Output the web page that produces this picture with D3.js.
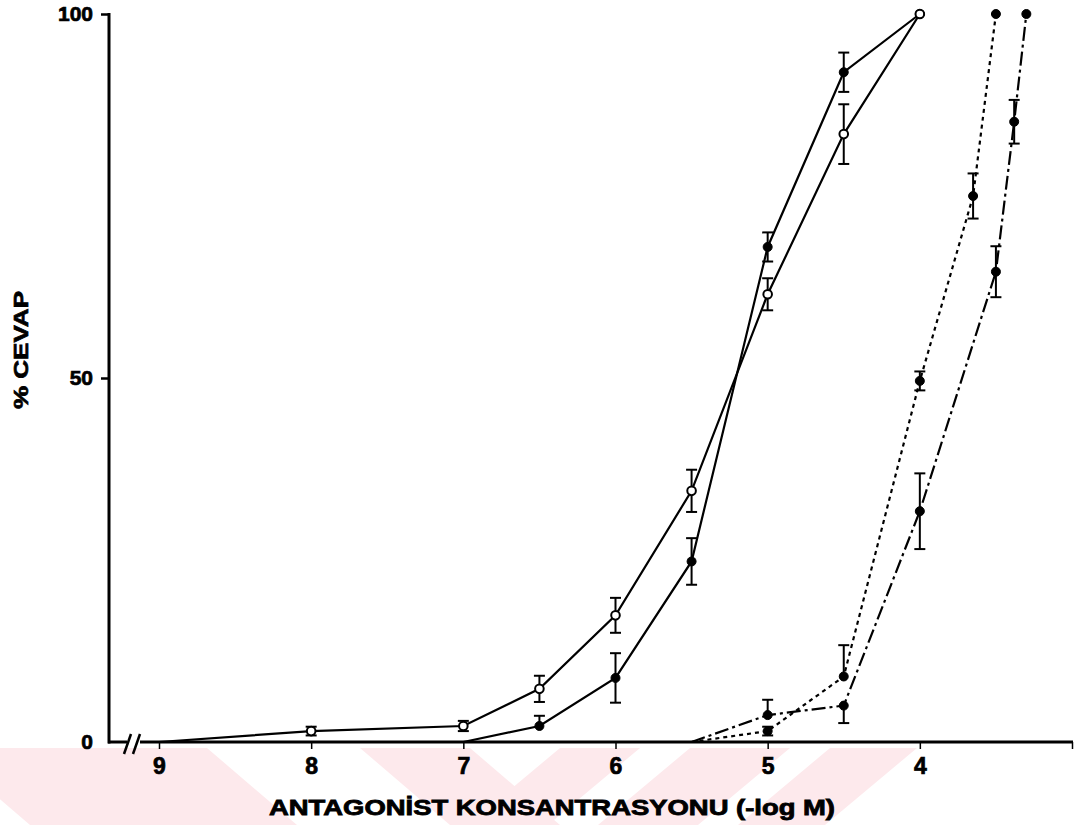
<!DOCTYPE html>
<html>
<head>
<meta charset="utf-8">
<script src="https://cdnjs.cloudflare.com/ajax/libs/d3/7.8.5/d3.min.js"></script>
<style>
body{margin:0;background:#fff;}
svg{display:block;}
text{paint-order:stroke;}
</style>
</head>
<body>
<div id="chart"></div>
<script>
(function(){

const width = 1080;
const height = 825;

// axis ticks
const xTicks = [9,8,7,6,5,4,3];
const xTickLabels = ["9","8","7","6","5","4",""];
const yTicks = [0,50,100];

// open circles, solid line
const openX = [9,8,7,6.5,6,5.5,5,4.5,4];
const openY = [0,1.5,2.2,7.3,17.4,34.5,61.5,83.5,100];
const openErr = [0,0.6,0.7,1.8,2.4,2.9,2.2,4.1,0];

// filled circles, solid line
const filledX = [7,6.5,6,5.5,5,4.5,4];
const filledY = [0,2.2,8.8,24.8,68,92,100];
const filledUp = [0,1.4,3.4,3.2,2,2.7,0];
const filledDown = [0,0,3.4,3.2,2,2.7,0];

// filled circles, dotted line
const dotX = [5.5,5,4.5,4,3.65,3.5];
const dotY = [0,1.5,9,49.6,75,100];
const dotUp = [0,0.6,4.3,1.3,3.1,0];
const dotDown = [0,0.6,0,1.3,3.1,0];

// filled circles, dash-dot line
const dashX = [5.5,5,4.5,4,3.5,3.38,3.3];
const dashY = [0,3.7,5,31.7,64.6,85.2,100];
const dashUp = [0,2.1,0,5.2,3.5,3.0,0];
const dashDown = [0,0,2.4,5.2,3.5,3.0,0];

const svg = d3.select("#chart")
.append("svg")
.attr("width",width)
.attr("height",height);

// faint watermark bands below the axis
const wm = svg.append("g").attr("fill","#fde9ec");
[[-60,207,90],[360,470,90],[560,640,-92],[690,790,-92],[830,917,-92]].forEach(b=>{
    wm.append("polygon")
    .attr("points",`${b[0]},748 ${b[1]},748 ${b[1]+b[2]},825 ${b[0]+b[2]},825`);
});

const x = d3.scaleLinear()
.domain([9,3])
.range([159,1072]);

const y = d3.scaleLinear()
.domain([0,100])
.range([742,14]);

const font = "'Liberation Sans', Arial, sans-serif";

// x axis (ticks and labels from d3, line drawn with a break)
const gx = svg.append("g")
.attr("transform",`translate(0,${y(0)})`)
.call(d3.axisBottom(x)
    .tickValues(xTicks)
    .tickSize(7)
    .tickPadding(9)
    .tickFormat((d,i)=>xTickLabels[i]));
gx.select(".domain").remove();
gx.selectAll(".tick line").attr("stroke","#000").attr("stroke-width",1.5);
gx.selectAll(".tick text")
.attr("fill","#000")
.attr("stroke","#000")
.attr("stroke-width",0.7)
.style("font-family",font)
.style("font-weight","bold")
.style("font-size","23px");

svg.append("line")
.attr("x1",108).attr("x2",127)
.attr("y1",y(0)).attr("y2",y(0))
.attr("stroke","#000").attr("stroke-width",3);
svg.append("line")
.attr("x1",140).attr("x2",x(3)+1)
.attr("y1",y(0)).attr("y2",y(0))
.attr("stroke","#000").attr("stroke-width",3);
[124,133].forEach(bx=>{
    svg.append("line")
    .attr("x1",bx).attr("y1",y(0)+12)
    .attr("x2",bx+7).attr("y2",y(0)-8)
    .attr("stroke","#000").attr("stroke-width",2.5);
});

// y axis
const gy = svg.append("g")
.attr("transform","translate(109,0)")
.call(d3.axisLeft(y)
    .tickValues(yTicks)
    .tickSize(8)
    .tickPadding(8));
gy.select(".domain").attr("stroke","#000").attr("stroke-width",3)
.attr("d",`M0,${y(100)-1}V${y(0)+1.5}`);
gy.selectAll(".tick line").attr("stroke","#000").attr("stroke-width",2.5)
.attr("opacity",d=>d===0?0:1);
gy.selectAll(".tick text")
.attr("fill","#000")
.attr("stroke","#000")
.attr("stroke-width",0.7)
.style("font-family",font)
.style("font-weight","bold")
.style("font-size","21px");

// axis titles
svg.append("text")
.attr("x",552)
.attr("y",815)
.attr("text-anchor","middle")
.attr("textLength",566)
.attr("lengthAdjust","spacingAndGlyphs")
.attr("stroke","#000")
.attr("stroke-width",0.8)
.style("font-family",font)
.style("font-weight","bold")
.style("font-size","21.5px")
.text("ANTAGONİST KONSANTRASYONU (-log M)");

svg.append("text")
.attr("transform","translate(28,350) rotate(-90)")
.attr("text-anchor","middle")
.attr("textLength",118)
.attr("lengthAdjust","spacingAndGlyphs")
.attr("stroke","#000")
.attr("stroke-width",0.7)
.style("font-family",font)
.style("font-weight","bold")
.style("font-size","21px")
.text("% CEVAP");

// series
const toPts = (xs,ys,up,down)=>xs.map((v,i)=>({x:v,y:ys[i],up:up[i],down:down[i]}));
const series = [
    {pts:toPts(filledX,filledY,filledUp,filledDown),dash:null,open:false},
    {pts:toPts(dotX,dotY,dotUp,dotDown),dash:"4,4",open:false},
    {pts:toPts(dashX,dashY,dashUp,dashDown),dash:"14,4,3,4",open:false},
    {pts:toPts(openX,openY,openErr,openErr),dash:null,open:true}
];

const line = d3.line()
.x(d=>x(d.x))
.y(d=>y(d.y));

series.forEach(s=>{
    svg.append("path")
    .datum(s.pts)
    .attr("d",line)
    .attr("fill","none")
    .attr("stroke","#000")
    .attr("stroke-width",2.2)
    .attr("stroke-dasharray",s.dash);
});

series.forEach(s=>{
    const g = svg.append("g").attr("stroke","#000").attr("stroke-width",2);
    s.pts.filter(d=>d.up>0||d.down>0).forEach(d=>{
        const cx = x(d.x);
        g.append("line")
        .attr("x1",cx).attr("x2",cx)
        .attr("y1",y(d.y+d.up)).attr("y2",y(d.y-d.down));
        if(d.up>0){
            g.append("line").attr("x1",cx-5.5).attr("x2",cx+5.5)
            .attr("y1",y(d.y+d.up)).attr("y2",y(d.y+d.up));
        }
        if(d.down>0){
            g.append("line").attr("x1",cx-5.5).attr("x2",cx+5.5)
            .attr("y1",y(d.y-d.down)).attr("y2",y(d.y-d.down));
        }
    });
});

series.forEach(s=>{
    svg.append("g")
    .selectAll("circle")
    .data(s.pts.filter(d=>d.y>0))
    .enter()
    .append("circle")
    .attr("cx",d=>x(d.x))
    .attr("cy",d=>y(d.y))
    .attr("r",s.open?4.3:4.5)
    .attr("fill",s.open?"#fff":"#000")
    .attr("stroke","#000")
    .attr("stroke-width",s.open?2:1);
});

})();
</script>
</body>
</html>
